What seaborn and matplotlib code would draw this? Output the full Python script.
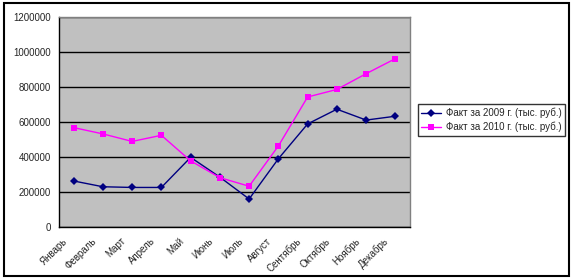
import matplotlib
matplotlib.use("Agg")
import matplotlib.pyplot as plt
import matplotlib.transforms as mtransforms
import seaborn as sns
import pandas as pd
from matplotlib.patches import Rectangle

months = ["Январь", "Февраль", "Март", "Апрель", "Май", "Июнь", "Июль",
          "Август", "Сентябрь", "Октябрь", "Ноябрь", "Декабрь"]
series_2009 = "Факт за 2009 г. (тыс. руб.)"
series_2010 = "Факт за 2010 г. (тыс. руб.)"
values_2009 = [263000, 230000, 226000, 226000, 398000, 285000, 160000,
               390000, 589000, 673000, 611000, 633000]
values_2010 = [568000, 532000, 489000, 524000, 378000, 282000, 233000,
               463000, 743000, 786000, 876000, 962000]
y_ticks = [0, 200000, 400000, 600000, 800000, 1000000, 1200000]

df = pd.DataFrame({
    "x": list(range(len(months))) * 2,
    "value": values_2009 + values_2010,
    "series": [series_2009] * len(months) + [series_2010] * len(months),
})

sns.set_style("white")
plt.rcParams["font.family"] = ["Liberation Sans", "DejaVu Sans"]

fig = plt.figure(figsize=(5.74, 2.8), dpi=100)
ax = fig.add_axes([59 / 574, 1 - 227 / 280, (410 - 59) / 574, (227 - 17) / 280])
ax.set_facecolor("#C0C0C0")

sns.lineplot(data=df, x="x", y="value", hue="series", style="series",
             palette={series_2009: "#000080", series_2010: "#FF00FF"},
             markers={series_2009: "D", series_2010: "s"},
             dashes=False, linewidth=1, markersize=4.5, markeredgewidth=0,
             ax=ax, zorder=3)

ax.set_xlim(-0.5, len(months) - 0.5)
ax.set_ylim(0, 1200000)
ax.set_yticks(y_ticks)
ax.set_yticklabels([str(v) for v in y_ticks], fontsize=7)
ax.yaxis.grid(True, color="black", linewidth=1)
ax.set_axisbelow(True)

ax.set_xticks(range(len(months)))
ax.set_xticklabels(months, rotation=45, ha="right", rotation_mode="anchor", fontsize=7)
ax.set_xticks([i - 0.5 for i in range(len(months) + 1)], minor=True)
ax.tick_params(axis="x", which="major", length=0, pad=9)
ax.tick_params(axis="x", which="minor", length=4, width=1, color="black", direction="out")
ax.tick_params(axis="y", which="major", length=4, width=1, color="black", direction="out", pad=2)
shift = mtransforms.ScaledTranslation(-8 / 100, 0, fig.dpi_scale_trans)
for lbl in ax.get_xticklabels():
    lbl.set_va("center")
    lbl.set_transform(lbl.get_transform() + shift)

ax.set_xlabel("")
ax.set_ylabel("")
for s in ["left", "bottom"]:
    ax.spines[s].set_color("black")
    ax.spines[s].set_linewidth(1)
for s in ["top", "right"]:
    ax.spines[s].set_color("#808080")
    ax.spines[s].set_linewidth(1)

leg = ax.legend(loc="center left", bbox_to_anchor=(418 / 574, 1 - 120 / 280),
                bbox_transform=fig.transFigure, fontsize=7, frameon=True,
                fancybox=False, edgecolor="black", borderpad=0.35,
                borderaxespad=0, handlelength=2.0, handletextpad=0.5,
                labelspacing=0.35)
leg.get_frame().set_linewidth(1)

fig.patches.append(Rectangle((4 / 574, 1 - 276 / 280), 565 / 574, 273 / 280,
                             transform=fig.transFigure, fill=False,
                             edgecolor="black", linewidth=1.5))

fig.savefig("out.png", dpi=100)
